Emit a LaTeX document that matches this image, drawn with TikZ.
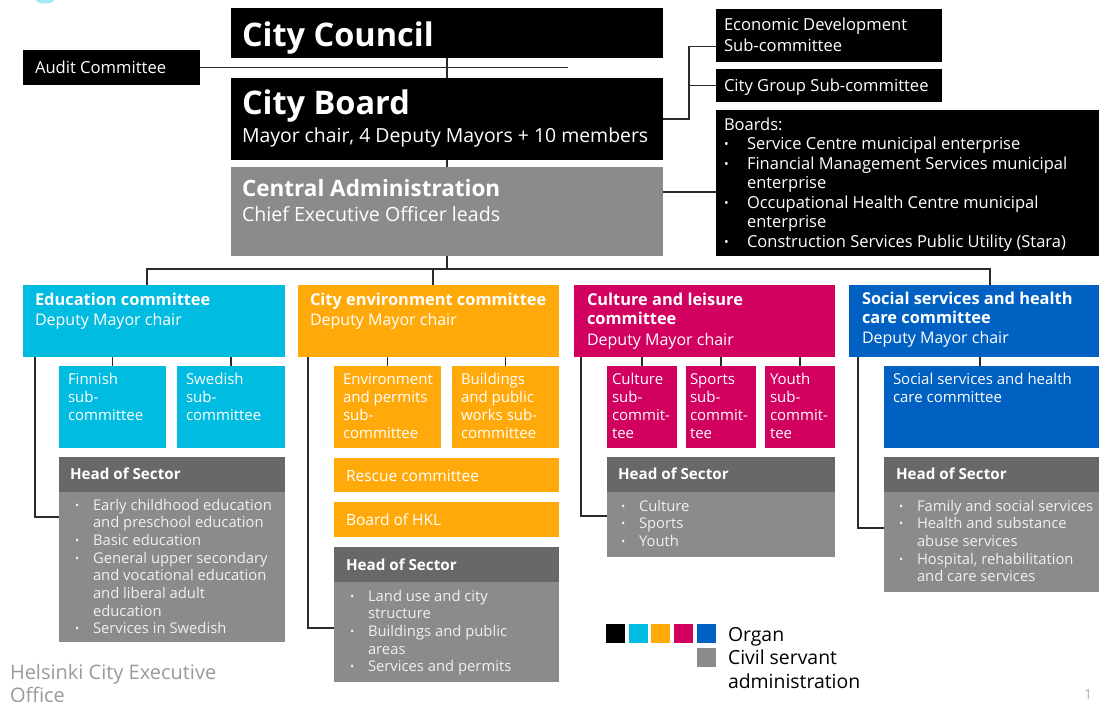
\documentclass[tikz,border=0pt]{standalone}
\usepackage{fontspec}
\setmainfont{Open Sans}
\usetikzlibrary{calc}

\definecolor{organblack}{HTML}{000000}
\definecolor{organcyan}{HTML}{00BCE0}
\definecolor{organorange}{HTML}{FFAA0A}
\definecolor{organmagenta}{HTML}{D2005E}
\definecolor{organblue}{HTML}{0061C2}
\definecolor{civilgray}{HTML}{8B8B8B}
\definecolor{headgray}{HTML}{686868}
\definecolor{linecol}{HTML}{2B2B2B}
\definecolor{footgray}{HTML}{9A9A9A}
\definecolor{pagegray}{HTML}{B4B4B4}

\tikzset{
  box/.style={rectangle, inner sep=0pt, outer sep=0pt, anchor=north west, fill=#1},
  txt/.style={anchor=base west, inner sep=0pt, outer sep=0pt, text=white,
              font=\fontsize{16.6}{20}\selectfont},
  bigtxt/.style={txt, font=\fontsize{32.5}{36}\bfseries\selectfont},
  headtxt/.style={txt, font=\fontsize{16.4}{19.5}\bfseries\selectfont},
  subtxt/.style={txt, font=\fontsize{15}{18}\selectfont},
  listtxt/.style={txt, text=white!94!black, font=\fontsize{14.8}{17.7}\selectfont},
  link/.style={draw=linecol, line width=1.3pt},
}
% lines of a text block, baseline of the block on its first line
\newcommand{\ml}[1]{\parbox[t]{400pt}{\raggedright #1}}
\newcommand{\dotmark}{\raisebox{1pt}{\scalebox{0.75}{\textbullet}}}
\newcommand{\itm}{\makebox[18pt][l]{\dotmark}}
\newcommand{\ind}{\hspace*{18pt}}
\newcommand{\bitm}{\makebox[23pt][l]{\dotmark}}

\begin{document}
\begin{tikzpicture}[x=1pt, y=-1pt]
\useasboundingbox (0,0) rectangle (1099,701);
\fill[white] (0,0) rectangle (1099,701);

% corner of the office logo
\fill[organcyan!35] (45,0) ellipse (9 and 3.5);

% ---------- top level organs ----------
\node[box=organblack, minimum width=432pt, minimum height=50pt] (council) at (231,8) {};
\node[box=organblack, minimum width=177pt, minimum height=35pt] (audit) at (23,50) {};
\node[box=organblack, minimum width=432pt, minimum height=82pt] (board) at (231,78) {};
\node[box=civilgray, minimum width=432pt, minimum height=89pt] (central) at (231,167) {};
\node[box=organblack, minimum width=226pt, minimum height=53pt] (econ) at (716,9) {};
\node[box=organblack, minimum width=226pt, minimum height=33pt] (citygroup) at (716,69) {};
\node[box=organblack, minimum width=383pt, minimum height=146pt] (boards) at (716,110) {};

\node[bigtxt] (councilT) at (242,46) {City Council};
\node[txt] (auditT) at (35,73) {Audit Committee};
\node[bigtxt] (boardT) at (242,114) {City Board};
\node[txt, font=\fontsize{19.4}{22}\selectfont] (boardS) at (242,142) {Mayor chair, 4 Deputy Mayors + 10 members};
\node[txt, font=\fontsize{22.5}{26}\bfseries\selectfont] (centralT) at (242,196) {Central Administration};
\node[txt, font=\fontsize{19.6}{23}\selectfont] (centralS) at (242,221) {Chief Executive Officer leads};
\node[txt, font=\fontsize{16.6}{20.5}\selectfont] (econT) at (724,31) {\ml{Economic Development\\Sub-committee}};
\node[txt] (citygroupT) at (724,91) {City Group Sub-committee};
\node[txt, font=\fontsize{16.5}{19.5}\selectfont] (boardsT) at (724,130)
  {\ml{Boards:\\
   \bitm Service Centre municipal enterprise\\
   \bitm Financial Management Services municipal\\
   \hspace*{23pt}enterprise\\
   \bitm Occupational Health Centre municipal\\
   \hspace*{23pt}enterprise\\
   \bitm Construction Services Public Utility (Stara)}};

% ---------- committees ----------
\node[box=organcyan, minimum width=262pt, minimum height=72pt] (edu) at (23,285) {};
\node[box=organorange, minimum width=261pt, minimum height=72pt] (env) at (298,285) {};
\node[box=organmagenta, minimum width=261pt, minimum height=72pt] (cult) at (574,285) {};
\node[box=organblue, minimum width=250pt, minimum height=72pt] (soc) at (849,285) {};

\node[headtxt] (eduT) at (35,305) {Education committee};
\node[txt, font=\fontsize{16}{19.5}\selectfont] (eduS) at (35,325) {Deputy Mayor chair};
\node[headtxt] (envT) at (310,305) {City environment committee};
\node[txt, font=\fontsize{16}{19.5}\selectfont] (envS) at (310,325) {Deputy Mayor chair};
\node[headtxt] (cultT) at (587,305) {\ml{Culture and leisure\\committee}};
\node[txt, font=\fontsize{16}{19.5}\selectfont] (cultS) at (587,345) {Deputy Mayor chair};
\node[headtxt] (socT) at (862,304) {\ml{Social services and health\\care committee}};
\node[txt, font=\fontsize{16}{19.5}\selectfont] (socS) at (862,343) {Deputy Mayor chair};

% ---------- sub-committees ----------
\node[box=organcyan, minimum width=107pt, minimum height=82pt] (finnish) at (59,366) {};
\node[box=organcyan, minimum width=108pt, minimum height=82pt] (swedish) at (177,366) {};
\node[box=organorange, minimum width=107pt, minimum height=82pt] (envperm) at (334,366) {};
\node[box=organorange, minimum width=107pt, minimum height=82pt] (works) at (452,366) {};
\node[box=organorange, minimum width=225pt, minimum height=34pt] (rescue) at (334,458) {};
\node[box=organorange, minimum width=225pt, minimum height=35pt] (hkl) at (334,502) {};
\node[box=organmagenta, minimum width=70pt, minimum height=82pt] (cultsub) at (607,366) {};
\node[box=organmagenta, minimum width=70pt, minimum height=82pt] (sportsub) at (686,366) {};
\node[box=organmagenta, minimum width=70pt, minimum height=82pt] (youthsub) at (765,366) {};
\node[box=organblue, minimum width=215pt, minimum height=82pt] (socsub) at (884,366) {};

\node[subtxt] (finnishT) at (68,384) {\ml{Finnish\\sub-\\committee}};
\node[subtxt] (swedishT) at (186,384) {\ml{Swedish\\sub-\\committee}};
\node[subtxt] (envpermT) at (343,384) {\ml{Environment\\and permits\\sub-\\committee}};
\node[subtxt] (worksT) at (461,384) {\ml{Buildings\\and public\\works sub-\\committee}};
\node[subtxt, font=\fontsize{15.5}{18}\selectfont] (rescueT) at (346,481) {Rescue committee};
\node[subtxt, font=\fontsize{15.5}{18}\selectfont] (hklT) at (346,525) {Board of HKL};
\node[subtxt] (cultsubT) at (612,384) {\ml{Culture\\sub-\\commit-\\tee}};
\node[subtxt] (sportsubT) at (690,384) {\ml{Sports\\sub-\\commit-\\tee}};
\node[subtxt] (youthsubT) at (770,384) {\ml{Youth\\sub-\\commit-\\tee}};
\node[subtxt] (socsubT) at (893,384) {\ml{Social services and health\\care committee}};

% ---------- heads of sector ----------
\node[box=civilgray, minimum width=226pt, minimum height=185pt] (eduhead) at (59,457) {};
\node[box=civilgray, minimum width=225pt, minimum height=135pt] (envhead) at (334,547) {};
\node[box=civilgray, minimum width=228pt, minimum height=100pt] (culthead) at (607,457) {};
\node[box=civilgray, minimum width=215pt, minimum height=135pt] (sochead) at (884,457) {};
\foreach \h in {eduhead, envhead, culthead, sochead}
  \fill[headgray] (\h.north west) rectangle ($(\h.north east)+(0,35)$);

\node[headtxt, font=\fontsize{15.2}{18}\bfseries\selectfont] (eduheadT) at (70,479) {Head of Sector};
\node[headtxt, font=\fontsize{15.2}{18}\bfseries\selectfont] (envheadT) at (346,570) {Head of Sector};
\node[headtxt, font=\fontsize{15.2}{18}\bfseries\selectfont] (cultheadT) at (618,479) {Head of Sector};
\node[headtxt, font=\fontsize{15.2}{18}\bfseries\selectfont] (socheadT) at (896,479) {Head of Sector};

\node[listtxt] (eduL) at (75,510)
  {\ml{\itm Early childhood education\\
   \ind and preschool education\\
   \itm Basic education\\
   \itm General upper secondary\\
   \ind and vocational education\\
   \ind and liberal adult\\
   \ind education\\
   \itm Services in Swedish}};
\node[listtxt] (envL) at (350,601)
  {\ml{\itm Land use and city\\
   \ind structure\\
   \itm Buildings and public\\
   \ind areas\\
   \itm Services and permits}};
\node[listtxt] (cultL) at (621,511)
  {\ml{\itm Culture\\
   \itm Sports\\
   \itm Youth}};
\node[listtxt] (socL) at (899,511)
  {\ml{\itm Family and social services\\
   \itm Health and substance\\
   \ind abuse services\\
   \itm Hospital, rehabilitation\\
   \ind and care services}};

% ---------- connectors ----------
\coordinate (auditEnd) at (568,67.5);
\coordinate (subJ) at (689,0);
\coordinate (cbY) at (0,192);
\coordinate (eduD) at (147,269);
\coordinate (envD) at (433,269);
\coordinate (socD) at (990,269);

\draw[link] (council.south) -- (board.north);
\draw[link] (audit.east) -- (auditEnd);
\draw[link] (board.south) -- (central.north);
\draw[link] (board.east) -- (board.east -| subJ) |- ($(econ.west)+(0,11)$);
\draw[link] (board.east -| subJ) |- (citygroup.west);
\draw[link] (central.east |- cbY) -- (boards.west |- cbY);
\draw[link] (central.south) -- (central.south |- eduD);
\draw[link] (edu.north -| eduD) -- (eduD) -- (socD) -- (soc.north -| socD);
\draw[link] (envD) -- (env.north -| envD);

\draw[link] ($(edu.south west)+(12,0)$) |- ($(eduhead.north west)+(0,60)$);
\draw[link] (finnish.north) -- (finnish.north |- edu.south);
\draw[link] (swedish.north) -- (swedish.north |- edu.south);

\draw[link] ($(env.south west)+(10,0)$) |- ($(envhead.north west)+(0,81)$);
\draw[link] (envperm.north) -- (envperm.north |- env.south);
\draw[link] (works.north) -- (works.north |- env.south);

\draw[link] ($(cult.south west)+(7,0)$) |- ($(culthead.north west)+(0,59)$);
\draw[link] (cultsub.north) -- (cultsub.north |- cult.south);
\draw[link] (sportsub.north) -- (sportsub.north |- cult.south);
\draw[link] (youthsub.north) -- (youthsub.north |- cult.south);

\draw[link] ($(soc.south west)+(9,0)$) |- ($(sochead.north west)+(0,71)$);
\draw[link] ($(socsub.north west)+(96,0)$) -- ($(soc.south west)+(131,0)$);

% ---------- legend ----------
\node[box=organblack, minimum size=19pt] (lgBlack) at (606,624) {};
\node[box=organcyan, minimum size=19pt] (lgCyan) at (629,624) {};
\node[box=organorange, minimum size=19pt] (lgOrange) at (651,624) {};
\node[box=organmagenta, minimum size=19pt] (lgMagenta) at (674,624) {};
\node[box=organblue, minimum size=19pt] (lgBlue) at (697,624) {};
\node[box=civilgray, minimum size=19pt] (lgGray) at (697,648) {};
\node[txt, text=black, font=\fontsize{19.4}{23.5}\selectfont] (lgOrgan) at (728,641) {\ml{Organ\\Civil servant\\administration}};

% ---------- footer ----------
\node[txt, text=footgray, font=\fontsize{20}{23}\selectfont] (office) at (10,679) {\ml{Helsinki City Executive\\Office}};
\node[txt, text=pagegray, font=\fontsize{14}{16}\selectfont] (pageno) at (1084,699) {1};
\end{tikzpicture}
\end{document}
